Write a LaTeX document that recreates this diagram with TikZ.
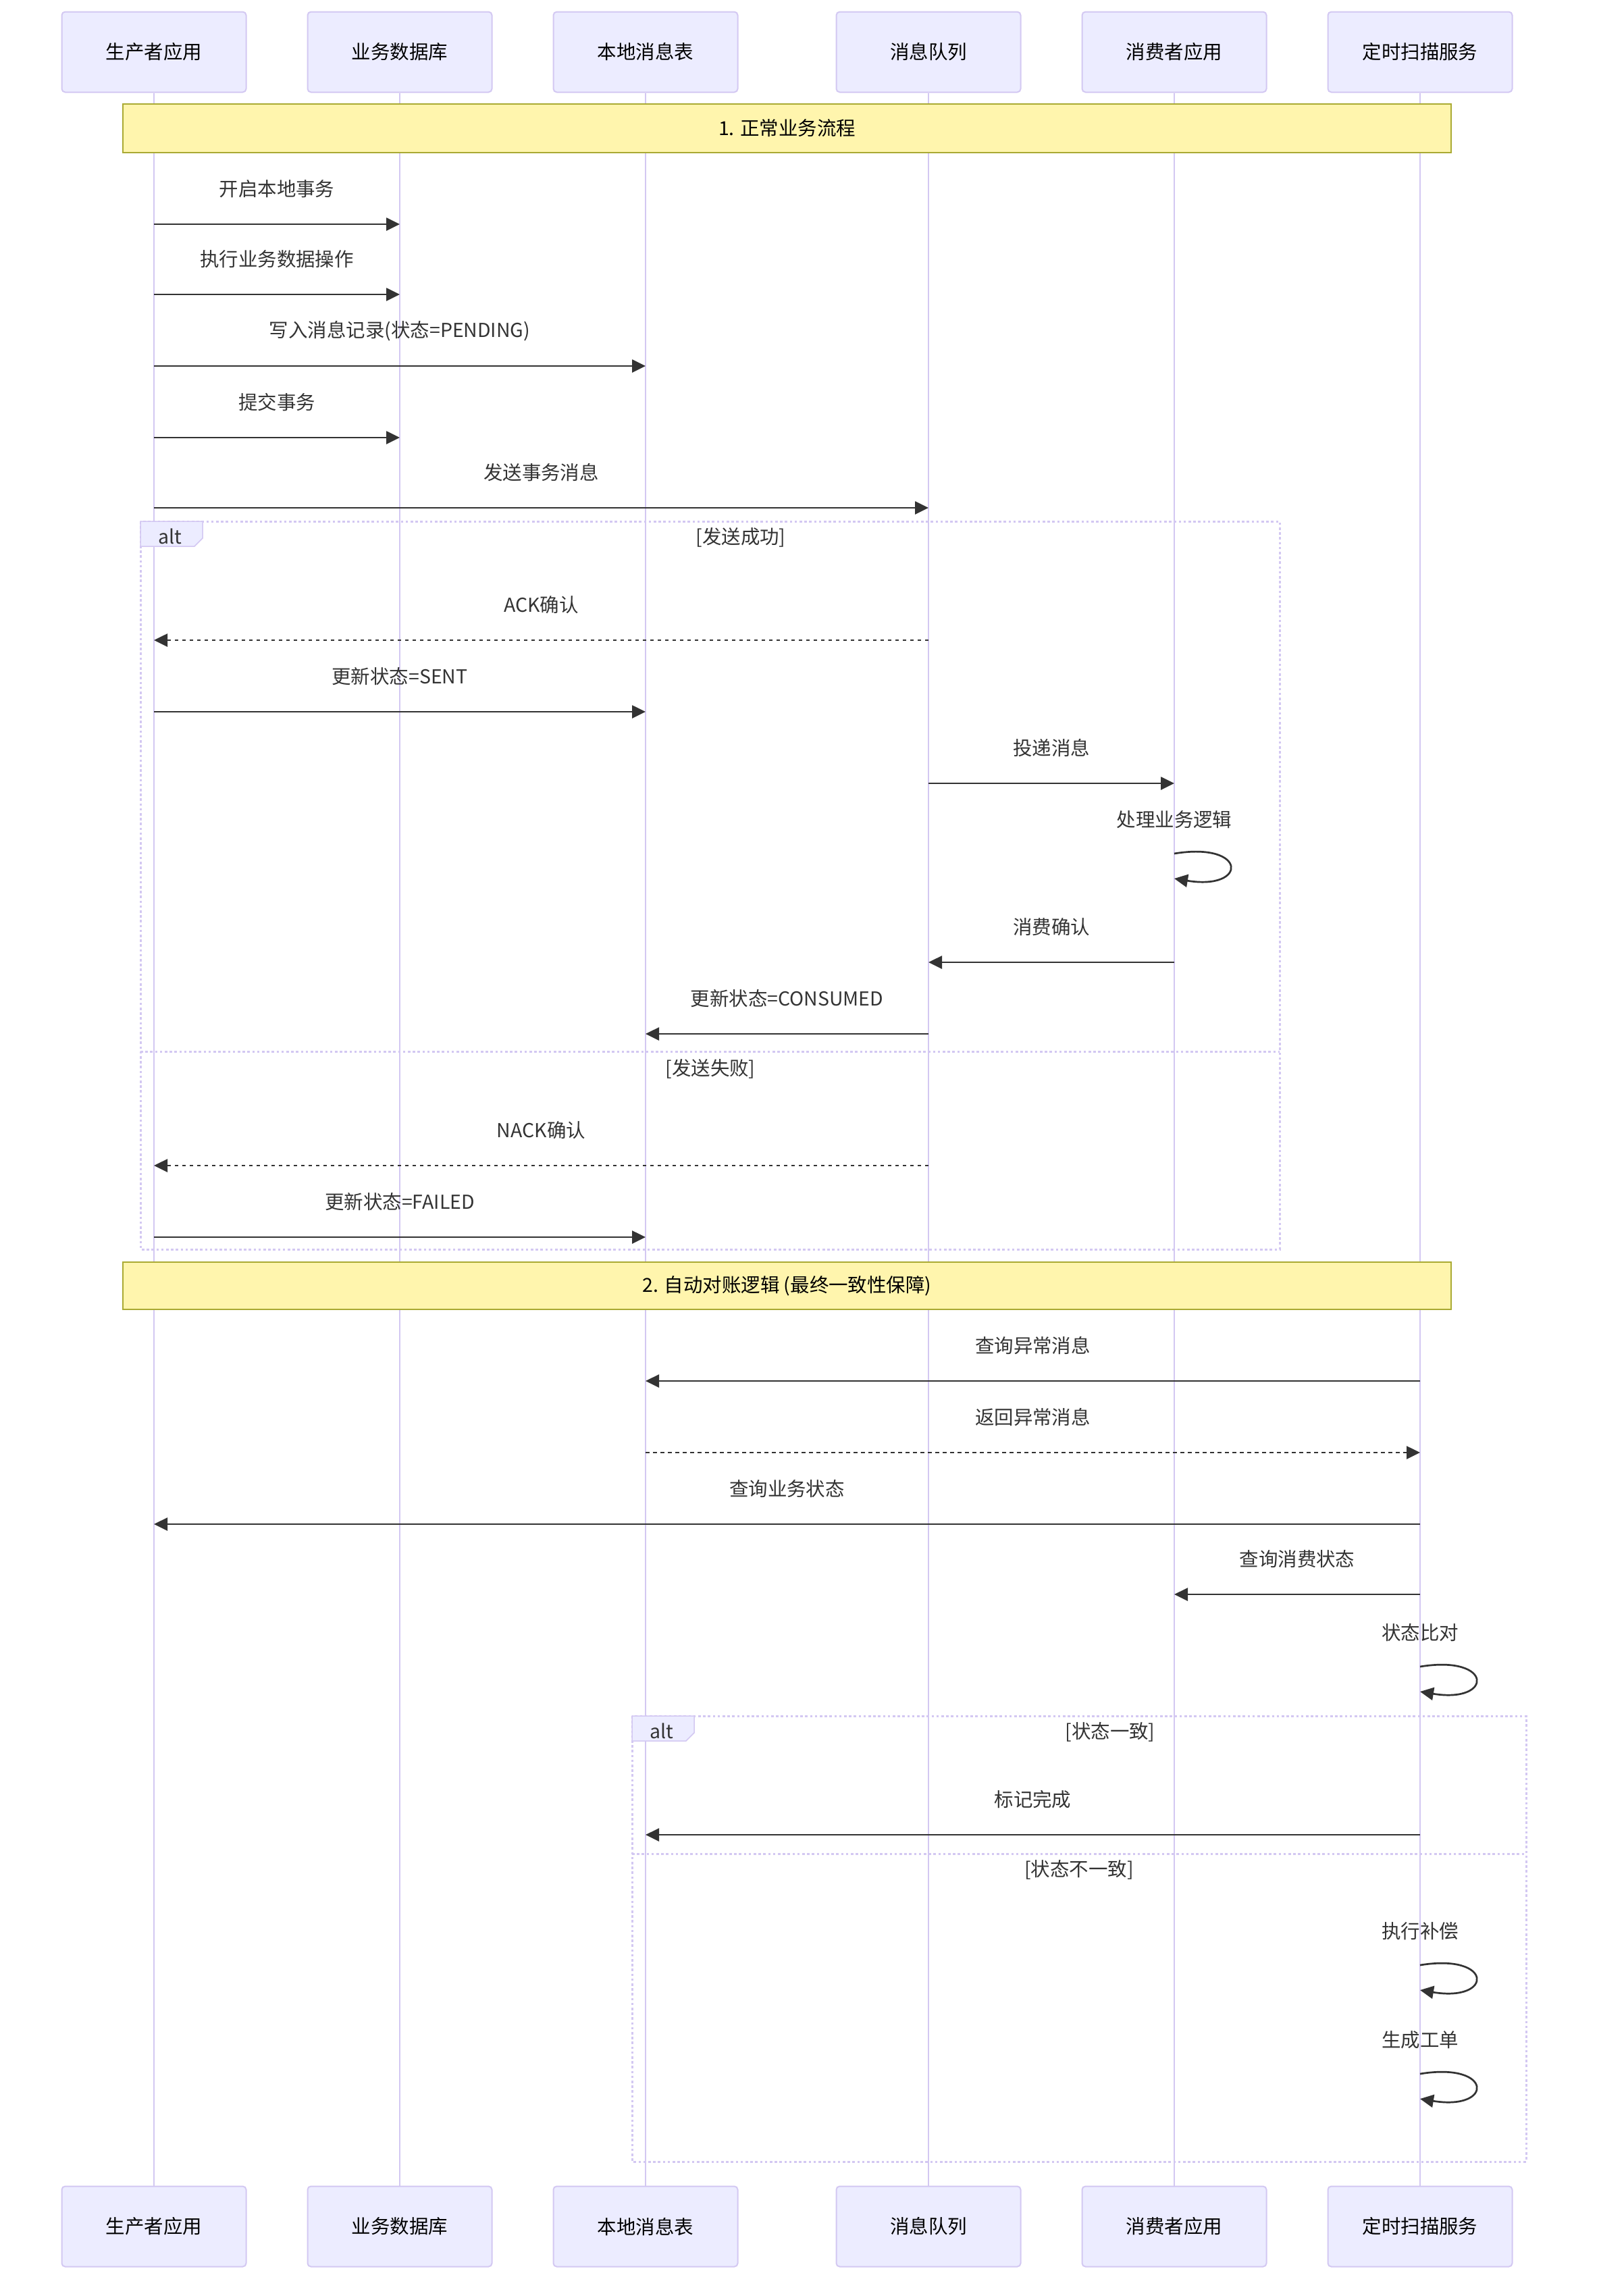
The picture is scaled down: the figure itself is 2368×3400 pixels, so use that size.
\documentclass[tikz,border=0pt]{standalone}
\usepackage{fontspec}
\setmainfont{Noto Sans CJK SC}
\usetikzlibrary{arrows.meta,positioning,calc}
\definecolor{actfill}{HTML}{ECECFF}
\definecolor{actline}{HTML}{D3C8F2}
\definecolor{ink}{HTML}{333333}
\definecolor{notefill}{HTML}{FFF5AD}
\definecolor{noteline}{HTML}{AAAA33}

\begin{document}
\begin{tikzpicture}[x=0.1mm,y=-0.1mm,
                    every node/.style={font=\fontsize{8.1}{10}\selectfont},
                    act/.style={draw=actline,fill=actfill,line width=0.2mm,rounded corners=0.5mm,minimum width=27.3mm,minimum height=11.9mm,inner sep=0pt,text=black},
                    life/.style={draw=actline,line width=0.22mm},
                    msg/.style={draw=ink,line width=0.27mm,-{Triangle[length=2mm,width=1.9mm]}},
                    ret/.style={msg,dash pattern=on 0.55mm off 0.55mm},
                    lbl/.style={text=ink,inner sep=0pt},
                    nt/.style={draw=noteline,fill=notefill,line width=0.2mm,minimum width=196.7mm,inner sep=0pt,text=black},
                    fr/.style={draw=actline,line width=0.3mm,dash pattern=on 0.36mm off 0.36mm},
                    tag/.style={draw=actline,fill=actfill,line width=0.15mm}]
  \useasboundingbox (0,0) rectangle (2368,3400);
  % actors and lifelines
  \foreach \id/\x/\txt in {pa/228/生产者应用, db/592/业务数据库, lt/956/本地消息表, mq/1375/消息队列, ca/1739/消费者应用, sc/2103/定时扫描服务} {
    \node[act] (\id) at (\x,77) {\txt};
    \node[act] (\id-b) at (\x,3297) {\txt};
    \draw[life] (\id) -- (\id-b);
  }
  % alt frames
  \draw[fr] (208,772) rectangle (1895,1850);
  \draw[fr] (208,1557) -- (1895,1557);
  \draw[tag] (208,772) -- (300,772) -- (300,797) -- (288,809) -- (208,809) -- cycle;
  \node[lbl] (alt1) at (252,794) {alt};
  \node[lbl] (c1) at (1097,796) {[发送成功]};
  \node[lbl] (c2) at (1052,1583) {[发送失败]};
  \draw[fr] (936,2541) rectangle (2260,3201);
  \draw[fr] (936,2745) -- (2260,2745);
  \draw[tag] (936,2541) -- (1028,2541) -- (1028,2566) -- (1016,2578) -- (936,2578) -- cycle;
  \node[lbl] (alt2) at (980,2563) {alt};
  \node[lbl] (c3) at (1644,2565) {[状态一致]};
  \node[lbl] (c4) at (1598,2769) {[状态不一致]};
  % notes
  \node[nt,minimum height=7.2mm] (n1) at (1165.5,190) {1. 正常业务流程};
  \node[nt,minimum height=7mm] (n2) at (1165.5,1904) {2. 自动对账逻辑 (最终一致性保障)};
  % messages
  \foreach \src/\dst/\yy/\txt [count=\i] in {pa/db/332/开启本地事务, pa/db/436/执行业务数据操作, pa/lt/542/写入消息记录(状态=PENDING), pa/db/648/提交事务, pa/mq/752/发送事务消息, pa/lt/1054/更新状态=SENT, mq/ca/1160/投递消息, ca/mq/1425/消费确认, mq/lt/1531/更新状态=CONSUMED, pa/lt/1832/更新状态=FAILED, sc/lt/2045/查询异常消息, sc/pa/2257/查询业务状态, sc/ca/2361/查询消费状态, sc/lt/2717/标记完成} {
    \draw[msg] (\src |- 0,\yy) -- (\dst |- 0,\yy) node[lbl,midway,yshift=5.2mm] (m\i) {\txt};
  }
  \foreach \src/\dst/\yy/\txt [count=\i] in {mq/pa/948/ACK确认, mq/pa/1726/NACK确认, lt/sc/2151/返回异常消息} {
    \draw[ret] (\src |- 0,\yy) -- (\dst |- 0,\yy) node[lbl,midway,yshift=5.2mm] (r\i) {\txt};
  }
  % self calls
  \foreach \src/\yy/\txt [count=\i] in {ca/1264/处理业务逻辑, sc/2468/状态比对, sc/2910/执行补偿, sc/3071/生成工单} {
    \coordinate (s\i) at (\src |- 0,\yy);
    \coordinate (e\i) at ($(s\i)+(0,37)$);
    \node[lbl] (l\i) at ($(s\i)+(0,-50)$) {\txt};
    \draw[msg] (s\i) .. controls ($(s\i)+(109,-18)$) and ($(s\i)+(109,55)$) .. (e\i);
  }
\end{tikzpicture}
\end{document}
